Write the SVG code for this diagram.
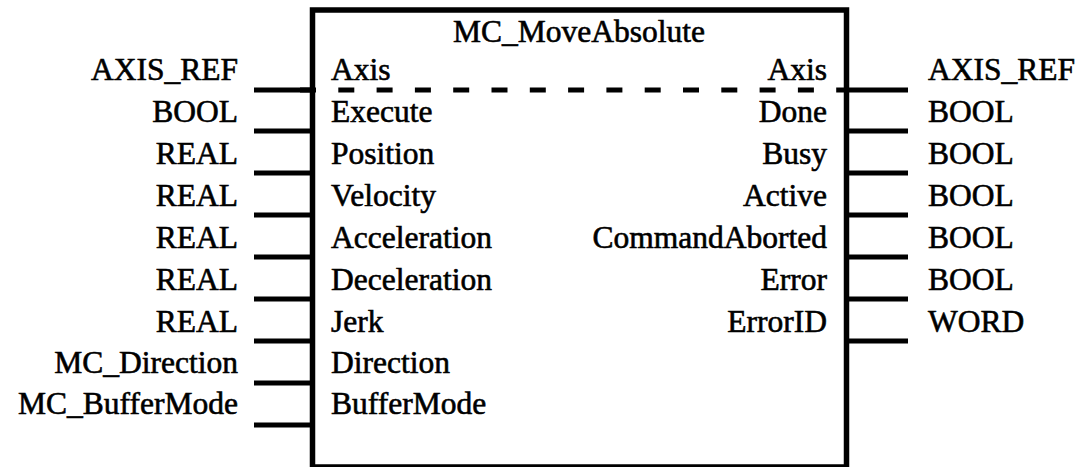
<svg xmlns="http://www.w3.org/2000/svg" width="1078" height="467" viewBox="0 0 1078 467">
<style>
  text { font-family: "Liberation Serif", "Times New Roman", serif; font-size: 31.5px; fill: #000; stroke: #000; stroke-width: 0.6; }
  .r { text-anchor: end; }
  .m { text-anchor: middle; }
  .stub { stroke: #000; stroke-width: 5; fill: none; }
  .box { stroke: #000; stroke-width: 5.5; fill: #fff; }
  .dash { stroke: #000; stroke-width: 5; stroke-dasharray: 16 22.3; fill: none; }
</style>
<rect width="1078" height="467" fill="#fff"/>
<g id="connectors">
  <line class="stub" x1="254" y1="90" x2="312" y2="90"/>
  <line class="stub" x1="254" y1="131" x2="312" y2="131"/>
  <line class="stub" x1="254" y1="173" x2="312" y2="173"/>
  <line class="stub" x1="254" y1="215" x2="312" y2="215"/>
  <line class="stub" x1="254" y1="257" x2="312" y2="257"/>
  <line class="stub" x1="254" y1="299" x2="312" y2="299"/>
  <line class="stub" x1="254" y1="341" x2="312" y2="341"/>
  <line class="stub" x1="254" y1="383" x2="312" y2="383"/>
  <line class="stub" x1="254" y1="425" x2="312" y2="425"/>
  <line class="stub" x1="846" y1="90" x2="908" y2="90"/>
  <line class="stub" x1="846" y1="131" x2="908" y2="131"/>
  <line class="stub" x1="846" y1="173" x2="908" y2="173"/>
  <line class="stub" x1="846" y1="215" x2="908" y2="215"/>
  <line class="stub" x1="846" y1="257" x2="908" y2="257"/>
  <line class="stub" x1="846" y1="299" x2="908" y2="299"/>
  <line class="stub" x1="846" y1="341" x2="908" y2="341"/>
</g>
<g id="block">
  <rect class="box" x="312.5" y="10" width="534" height="457"/>
  <line class="dash" x1="300" y1="90" x2="846" y2="90"/>
  <text class="m" x="579" y="42">MC_MoveAbsolute</text>
</g>
<g id="inputs">
  <text class="r" x="238" y="80">AXIS_REF</text>
  <text class="r" x="238" y="121.5">BOOL</text>
  <text class="r" x="238" y="164">REAL</text>
  <text class="r" x="238" y="205.5">REAL</text>
  <text class="r" x="238" y="247.5">REAL</text>
  <text class="r" x="238" y="289.5">REAL</text>
  <text class="r" x="238" y="331.5">REAL</text>
  <text class="r" x="238" y="373">MC_Direction</text>
  <text class="r" x="238" y="414">MC_BufferMode</text>
  <text x="331" y="80">Axis</text>
  <text x="331" y="121.5">Execute</text>
  <text x="331" y="164">Position</text>
  <text x="331" y="205.5">Velocity</text>
  <text x="331" y="247.5">Acceleration</text>
  <text x="331" y="289.5">Deceleration</text>
  <text x="331" y="331.5">Jerk</text>
  <text x="331" y="373">Direction</text>
  <text x="331" y="414">BufferMode</text>
</g>
<g id="outputs">
  <text class="r" x="827" y="80">Axis</text>
  <text class="r" x="827" y="121.5">Done</text>
  <text class="r" x="827" y="164">Busy</text>
  <text class="r" x="827" y="205.5">Active</text>
  <text class="r" x="827" y="247.5">CommandAborted</text>
  <text class="r" x="827" y="289.5">Error</text>
  <text class="r" x="827" y="331.5">ErrorID</text>
  <text x="928" y="80">AXIS_REF</text>
  <text x="928" y="121.5">BOOL</text>
  <text x="928" y="164">BOOL</text>
  <text x="928" y="205.5">BOOL</text>
  <text x="928" y="247.5">BOOL</text>
  <text x="928" y="289.5">BOOL</text>
  <text x="928" y="331.5">WORD</text>
</g>
</svg>
